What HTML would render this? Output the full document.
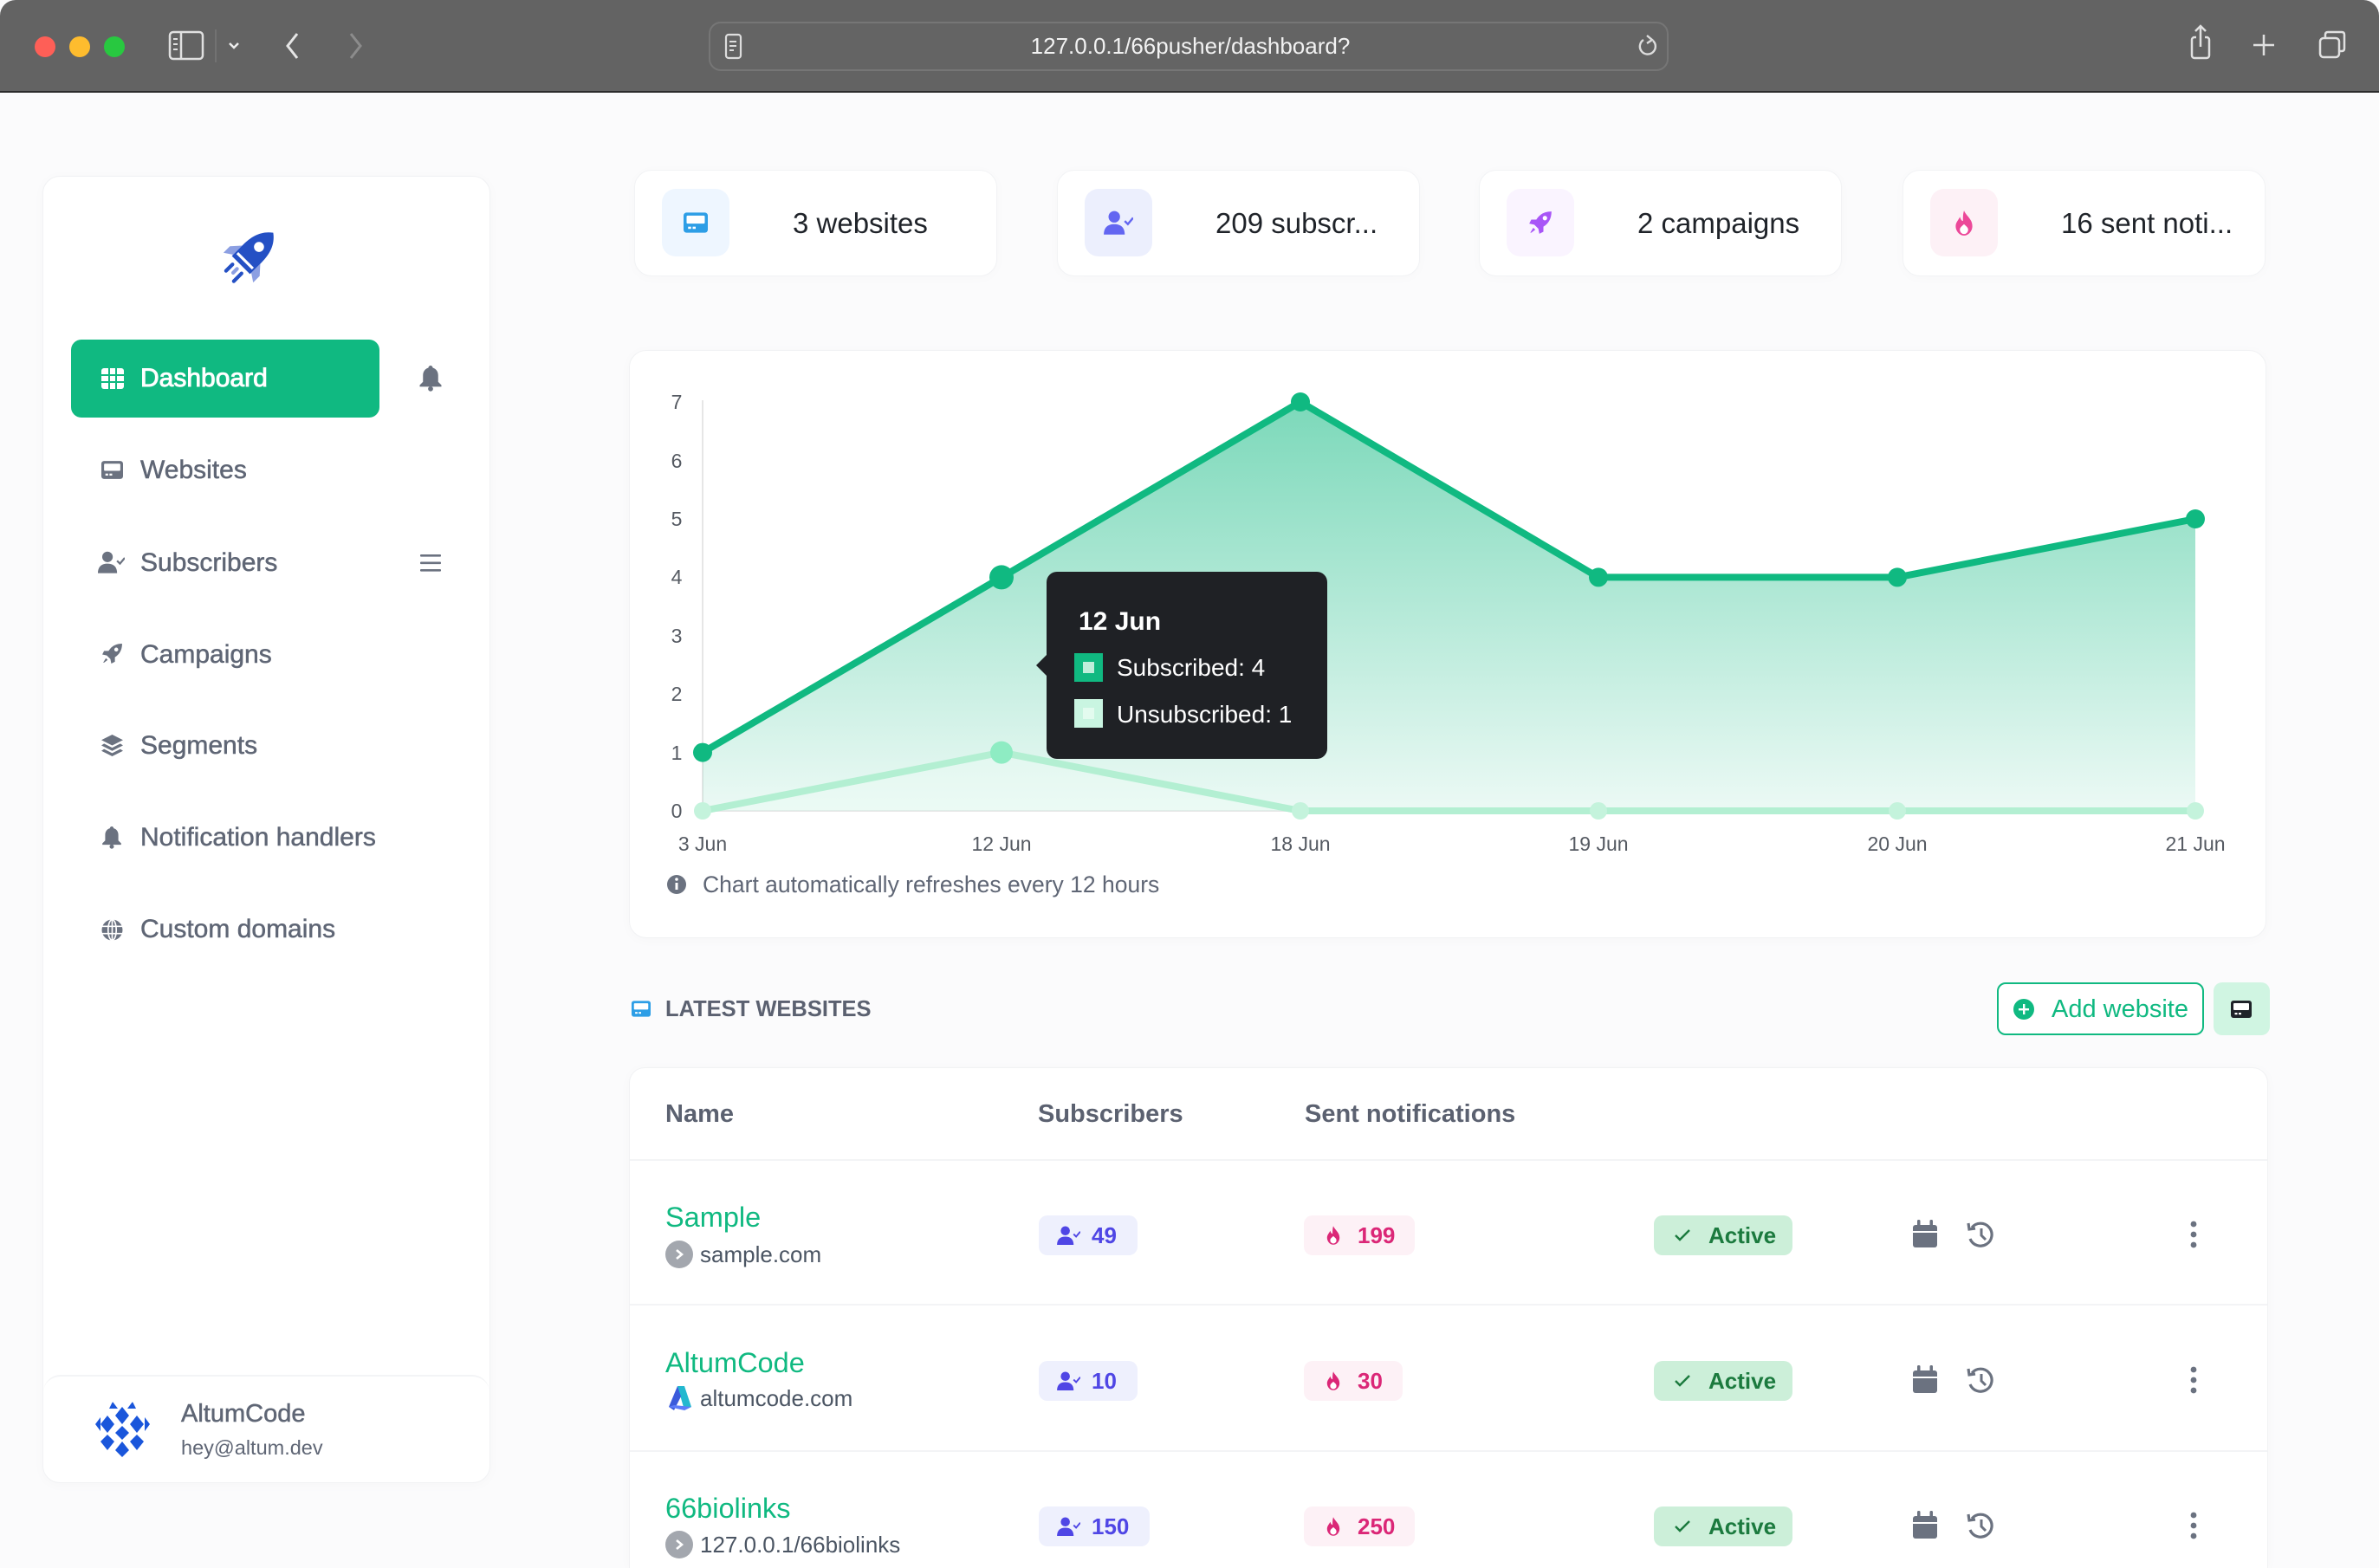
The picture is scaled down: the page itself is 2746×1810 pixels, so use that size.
<!DOCTYPE html>
<html><head><meta charset="utf-8">
<style>
*{margin:0;padding:0;box-sizing:border-box}
html,body{width:2746px;height:1810px;overflow:hidden;background:#fbfbfc;font-family:"Liberation Sans",Arial,sans-serif}
body{position:relative}
.a{position:absolute}
.card{position:absolute;background:#fff;border:1px solid #f1f2f4;box-shadow:0 2px 14px rgba(0,0,0,0.025)}
.mi{position:absolute;left:162px;height:40px;line-height:40px;font-size:30px;color:#5f6675;-webkit-text-stroke:0.5px #5f6675;white-space:nowrap}
.ic{position:absolute}
.stat{position:absolute;top:196px;width:419px;height:123px;border-radius:20px;background:#fff;border:1px solid #f2f3f5;box-shadow:0 2px 14px rgba(0,0,0,0.02)}
.sbox{position:absolute;left:31px;top:21px;width:78px;height:78px;border-radius:16px;display:flex;align-items:center;justify-content:center}
.stxt{position:absolute;left:182px;top:41px;line-height:40px;font-size:33px;color:#1f2329;white-space:nowrap}
.th{position:absolute;top:1266px;line-height:40px;font-size:29px;font-weight:bold;color:#5b6170}
.nm{position:absolute;left:768px;line-height:40px;font-size:32.5px;color:#10b981;white-space:nowrap}
.dm{position:absolute;left:768px;height:34px;line-height:34px;font-size:26px;color:#4b5563;white-space:nowrap;display:flex;align-items:center}
.dm .c{width:32px;height:32px;border-radius:50%;background:#a3a7ae;margin-right:8px;display:flex;align-items:center;justify-content:center}
.bd{position:absolute;height:46px;border-radius:10px;display:flex;align-items:center;font-size:26px;font-weight:bold;white-space:nowrap}
.sub{left:1199px;background:#eef0fd;color:#4f46e5;padding:0 24px 0 21px}
.snt{left:1505px;background:#fdf1f6;color:#db2777;padding:0 23px 0 25px}
.act{left:1909px;background:#ccefd9;color:#1b7a3e;padding:0 19px 0 23px}
.rowline{position:absolute;left:727px;width:1890px;height:2px;background:#f3f4f6}
</style></head><body>
<!-- browser chrome -->
<div class="a" style="left:0;top:0;width:2746px;height:105px;background:#636363;border-radius:18px 18px 0 0"></div>
<div class="a" style="left:0;top:105px;width:2746px;height:2px;background:#2c2c2c"></div>
<div class="a" style="left:40px;top:42px;width:24px;height:24px;border-radius:50%;background:#fe5f57"></div>
<div class="a" style="left:80px;top:42px;width:24px;height:24px;border-radius:50%;background:#febc2e"></div>
<div class="a" style="left:120px;top:42px;width:24px;height:24px;border-radius:50%;background:#28c840"></div>
<svg class="a" style="left:190px;top:30px" width="260" height="50" viewBox="0 0 260 50">
 <rect x="6" y="7" width="38" height="31" rx="4" fill="none" stroke="#e0e0e0" stroke-width="2.5"/>
 <line x1="19" y1="7" x2="19" y2="38" stroke="#e0e0e0" stroke-width="2.5"/>
 <line x1="10" y1="15" x2="15" y2="15" stroke="#e0e0e0" stroke-width="2"/><line x1="10" y1="21" x2="15" y2="21" stroke="#e0e0e0" stroke-width="2"/><line x1="10" y1="27" x2="15" y2="27" stroke="#e0e0e0" stroke-width="2"/>
 <line x1="59" y1="4" x2="59" y2="42" stroke="#777" stroke-width="1.5"/>
 <polyline points="75,20 80,25 85,20" fill="none" stroke="#eee" stroke-width="2.5"/>
 <polyline points="153,9 142,23 153,37" fill="none" stroke="#e6e6e6" stroke-width="3"/>
 <polyline points="215,9 226,23 215,37" fill="none" stroke="#8c8c8c" stroke-width="3"/>
</svg>
<div class="a" style="left:818px;top:25px;width:1108px;height:57px;border-radius:14px;border:2px solid #767676;background:#646464"></div>
<svg class="a" style="left:836px;top:38px" width="22" height="32" viewBox="0 0 22 32"><rect x="2" y="2" width="17" height="27" rx="3" fill="none" stroke="#ddd" stroke-width="2.2"/><line x1="6" y1="10" x2="14" y2="10" stroke="#ddd" stroke-width="2"/><line x1="6" y1="15" x2="14" y2="15" stroke="#ddd" stroke-width="2"/><line x1="6" y1="20" x2="11" y2="20" stroke="#ddd" stroke-width="2"/></svg>
<div class="a" style="left:1100px;top:34px;width:548px;text-align:center;line-height:38px;font-size:26px;color:#f2f2f2">127.0.0.1/66pusher/dashboard?</div>
<svg class="a" style="left:1888px;top:37px" width="28" height="32" viewBox="0 0 28 32"><path d="M20 10 A9 9 0 1 1 9 9" fill="none" stroke="#ddd" stroke-width="2.4"/><polyline points="13,4 19,9 13,13" fill="none" stroke="#ddd" stroke-width="2.4"/></svg>
<svg class="a" style="left:2520px;top:26px" width="200" height="50" viewBox="0 0 200 50">
 <rect x="10" y="17" width="20" height="24" rx="3" fill="none" stroke="#e0e0e0" stroke-width="2.5"/>
 <rect x="15" y="12" width="10" height="10" fill="#636363"/>
 <line x1="20" y1="4" x2="20" y2="28" stroke="#e0e0e0" stroke-width="2.5"/><polyline points="14,10 20,4 26,10" fill="none" stroke="#e0e0e0" stroke-width="2.5"/>
 <line x1="93" y1="14" x2="93" y2="38" stroke="#e0e0e0" stroke-width="2.5"/><line x1="81" y1="26" x2="105" y2="26" stroke="#e0e0e0" stroke-width="2.5"/>
 <rect x="158" y="18" width="22" height="22" rx="4" fill="none" stroke="#e0e0e0" stroke-width="2.5"/>
 <path d="M164 18 V14 Q164 11 167 11 H183 Q186 11 186 14 V30 Q186 33 183 33 H180" fill="none" stroke="#e0e0e0" stroke-width="2.5"/>
</svg>

<!-- sidebar -->
<div class="card" style="left:49px;top:203px;width:517px;height:1509px;border-radius:20px"></div>
<svg class="a" style="left:252px;top:256px" width="76" height="76" viewBox="0 0 72 72">
 <g transform="rotate(45 36 36)">
  <path d="M22 36 L13 46 L13 56 L22 50Z" fill="#8c9fe2"/>
  <path d="M50 36 L59 46 L59 56 L50 50Z" fill="#8c9fe2"/>
  <path d="M36 2 C47 10 50 22 50 34 L50 52 L22 52 L22 34 C22 22 25 10 36 2Z" fill="#2450c4"/>
  <circle cx="36" cy="24" r="5.5" fill="#fff"/>
  <rect x="24" y="44" width="24" height="3" fill="#fff"/>
  <line x1="29" y1="58" x2="29" y2="68" stroke="#2450c4" stroke-width="4" stroke-linecap="round"/>
  <line x1="36" y1="58" x2="36" y2="64" stroke="#8c9fe2" stroke-width="4" stroke-linecap="round"/>
  <line x1="43" y1="58" x2="43" y2="70" stroke="#2450c4" stroke-width="4" stroke-linecap="round"/>
 </g>
</svg>
<div class="a" style="left:82px;top:392px;width:356px;height:90px;border-radius:12px;background:#10b981"></div>
<svg class="a" style="left:117px;top:425px" width="26" height="24" viewBox="0 0 26 24"><rect x="0" y="0" width="26" height="24" rx="3" fill="#fff"/><g fill="#10b981"><rect x="8" y="0" width="2" height="24"/><rect x="16" y="0" width="2" height="24"/><rect x="0" y="7" width="26" height="2"/><rect x="0" y="15" width="26" height="2"/></g></svg>
<div class="mi" style="top:417px;color:#fff;-webkit-text-stroke:0.9px #fff">Dashboard</div>
<svg class="a" style="left:484px;top:422px" width="26" height="30" viewBox="0 0 20 24"><path d="M10 0 C11 0 12 1 12 2 C15.5 3 17 6 17 9 L17 15 L20 18 L20 19.5 L0 19.5 L0 18 L3 15 L3 9 C3 6 4.5 3 8 2 C8 1 9 0 10 0Z" fill="#6b7280"/><circle cx="10" cy="21.5" r="2.3" fill="#6b7280"/></svg>

<svg class="ic" style="left:117px;top:532px" width="25" height="21" viewBox="0 0 24 20"><rect width="24" height="20" rx="3" fill="#6b7280"/><rect x="3" y="3" width="18" height="8" rx="1" fill="#fff"/><rect x="4.5" y="14" width="3" height="2.2" fill="#fff"/><rect x="9" y="14" width="3" height="2.2" fill="#fff"/></svg>
<div class="mi" style="top:523px">Websites</div>

<svg class="ic" style="left:113px;top:636px" width="31" height="27" viewBox="0 0 28 24"><circle cx="10" cy="6" r="5.5" fill="#6b7280"/><path d="M0 23 C0 16 4 13 10 13 C16 13 20 16 20 23Z" fill="#6b7280"/><polyline points="20,10 23,13 28,7" fill="none" stroke="#6b7280" stroke-width="2"/></svg>
<div class="mi" style="top:630px">Subscribers</div>
<svg class="a" style="left:485px;top:639px" width="24" height="22" viewBox="0 0 24 22"><g fill="#6b7280"><rect y="1" width="24" height="2.6" rx="1"/><rect y="9.5" width="24" height="2.6" rx="1"/><rect y="18" width="24" height="2.6" rx="1"/></g></svg>

<svg class="ic" style="left:117px;top:742px" width="25" height="25" viewBox="0 0 24 24"><path d="M23 1 C16 1 11 4 8 9 L3 9 L1 13 L6 14 L10 18 L11 23 L15 21 L15 16 C20 13 23 8 23 1Z" fill="#6b7280"/><circle cx="16.5" cy="7.5" r="2.2" fill="#fff"/><path d="M5 17 L7 19 L3 22 L2 22Z" fill="#6b7280"/></svg>
<div class="mi" style="top:736px">Campaigns</div>

<svg class="ic" style="left:117px;top:848px" width="25" height="26" viewBox="0 0 24 25"><path d="M12 0 L24 6 L12 12 L0 6Z" fill="#6b7280"/><path d="M3 10 L12 14.5 L21 10 L24 12 L12 18 L0 12Z" fill="#6b7280"/><path d="M3 16 L12 20.5 L21 16 L24 18 L12 24 L0 18Z" fill="#6b7280"/></svg>
<div class="mi" style="top:841px">Segments</div>

<svg class="ic" style="left:118px;top:954px" width="22" height="26" viewBox="0 0 20 24"><path d="M10 0 C11 0 12 1 12 2 C15.5 3 17 6 17 9 L17 15 L20 18 L20 19.5 L0 19.5 L0 18 L3 15 L3 9 C3 6 4.5 3 8 2 C8 1 9 0 10 0Z" fill="#6b7280"/><circle cx="10" cy="21.5" r="2.3" fill="#6b7280"/></svg>
<div class="mi" style="top:947px">Notification handlers</div>

<svg class="ic" style="left:117px;top:1061px" width="25" height="25" viewBox="0 0 24 24"><circle cx="12" cy="12" r="11.5" fill="#6b7280"/><g stroke="#fff" stroke-width="1.6" fill="none"><ellipse cx="12" cy="12" rx="4.5" ry="11.5"/><line x1="0" y1="8" x2="24" y2="8"/><line x1="0" y1="16" x2="24" y2="16"/><line x1="12" y1="0" x2="12" y2="24"/></g></svg>
<div class="mi" style="top:1053px">Custom domains</div>

<div class="a" style="left:50px;top:1587px;width:515px;height:124px;border-top:2px solid #f3f4f6;border-radius:20px 20px 0 0"></div>
<svg class="a" style="left:108px;top:1616px" width="67" height="67" viewBox="0 0 67 67">
 <defs><clipPath id="av"><circle cx="33.5" cy="33.5" r="33"/></clipPath></defs>
 <g clip-path="url(#av)" fill="#1a56db">
  <path d="M33 8 L41 18 L33 28 L25 18Z"/><path d="M33 30 L41 38 L33 46 L25 38Z"/><path d="M33 48 L41 58 L33 66 L25 58Z"/>
  <path d="M16 18 L24 28 L16 38 L8 28Z"/><path d="M50 18 L58 28 L50 38 L42 28Z"/>
  <path d="M16 40 L24 48 L16 58 L8 48Z"/><path d="M50 40 L58 48 L50 58 L42 48Z"/>
  <path d="M2 28 L8 20 L8 36Z"/><path d="M65 28 L59 20 L59 36Z"/>
  <path d="M22 2 L28 10 L18 10Z"/><path d="M45 2 L49 10 L39 10Z"/>
  <path d="M4 50 L12 60 L2 58Z"/><path d="M63 50 L55 60 L65 58Z"/>
 </g>
</svg>
<div class="a" style="left:209px;top:1614px;line-height:36px;font-size:29px;color:#5f6675;-webkit-text-stroke:0.5px #5f6675">AltumCode</div>
<div class="a" style="left:209px;top:1655px;line-height:32px;font-size:23.5px;color:#5f6675">hey@altum.dev</div>

<!-- stat cards -->
<div class="stat" style="left:732px"><div class="sbox" style="background:#eef6ff"><svg width="28" height="24" viewBox="0 0 24 20"><rect width="24" height="20" rx="3" fill="#2d9ee6"/><rect x="3" y="3" width="18" height="8" rx="1" fill="#fff"/><rect x="4.5" y="14" width="3" height="2.2" fill="#fff"/><rect x="9" y="14" width="3" height="2.2" fill="#fff"/></svg></div><div class="stxt">3 websites</div></div>
<div class="stat" style="left:1220px"><div class="sbox" style="background:#eceffd"><svg width="34" height="29" viewBox="0 0 28 24"><circle cx="10" cy="6" r="5.5" fill="#6366f1"/><path d="M0 23 C0 16 4 13 10 13 C16 13 20 16 20 23Z" fill="#6366f1"/><polyline points="20,10 23,13 28,7" fill="none" stroke="#6366f1" stroke-width="2"/></svg></div><div class="stxt">209 subscr...</div></div>
<div class="stat" style="left:1707px"><div class="sbox" style="background:#faf4ff"><svg width="28" height="28" viewBox="0 0 24 24"><path d="M23 1 C16 1 11 4 8 9 L3 9 L1 13 L6 14 L10 18 L11 23 L15 21 L15 16 C20 13 23 8 23 1Z" fill="#a855f7"/><circle cx="16.5" cy="7.5" r="2.2" fill="#fff"/><path d="M5 17 L7 19 L3 22 L2 22Z" fill="#a855f7"/></svg></div><div class="stxt">2 campaigns</div></div>
<div class="stat" style="left:2196px"><div class="sbox" style="background:#fdf1f6"><svg width="24" height="29" viewBox="0 0 20 24"><path d="M10 0 C12 5 18 8 18 15 C18 20 14 24 10 24 C6 24 2 20 2 15 C2 11 5 9 6 6 C7 9 8 10 9 10 C9 6 9 3 10 0Z" fill="#ec4899"/><path d="M10 13 C12 15 14 16 14 18.5 A4 4 0 0 1 6 18.5 C6 16 8 15 10 13Z" fill="#fff"/></svg></div><div class="stxt">16 sent noti...</div></div>

<!-- chart card -->
<div class="card" style="left:726px;top:404px;width:1890px;height:679px;border-radius:20px"></div>
<svg class="a" style="left:0;top:0" width="2746" height="1810" viewBox="0 0 2746 1810">
 <defs>
  <linearGradient id="gf" x1="0" y1="464" x2="0" y2="936" gradientUnits="userSpaceOnUse">
   <stop offset="0" stop-color="#10b981" stop-opacity="0.55"/>
   <stop offset="1" stop-color="#10b981" stop-opacity="0.08"/>
  </linearGradient>
 </defs>
 <line x1="811" y1="462" x2="811" y2="937" stroke="#e6e6e6" stroke-width="2"/>
 <line x1="811" y1="936" x2="2534" y2="936" stroke="#e6e6e6" stroke-width="2"/>
 <polygon points="811,868.6 1156,666.4 1501,464 1845,666.4 2190,666.4 2534,599 2534,936 811,936" fill="url(#gf)"/>
 <polygon points="811,936 1156,868.6 1501,936 2534,936" fill="#ecfbf4" fill-opacity="0.45"/>
 <polyline points="811,936 1156,868.6 1501,936 1845,936 2190,936 2534,936" fill="none" stroke="#b3efd2" stroke-width="8" stroke-linejoin="round"/>
 <g fill="#c4f3dc"><circle cx="811" cy="936" r="10"/><circle cx="1501" cy="936" r="10"/><circle cx="1845" cy="936" r="10"/><circle cx="2190" cy="936" r="10"/><circle cx="2534" cy="936" r="10"/></g>
 <circle cx="1156" cy="868.6" r="13" fill="#8eecc3"/>
 <polyline points="811,868.6 1156,666.4 1501,464 1845,666.4 2190,666.4 2534,599" fill="none" stroke="#10b981" stroke-width="8" stroke-linejoin="round"/>
 <g fill="#10b981"><circle cx="811" cy="868.6" r="11"/><circle cx="1156" cy="666.4" r="14"/><circle cx="1501" cy="464" r="11"/><circle cx="1845" cy="666.4" r="11"/><circle cx="2190" cy="666.4" r="11"/><circle cx="2534" cy="599" r="11"/></g>
 <g font-family="Liberation Sans, Arial, sans-serif" font-size="23" fill="#555a62" text-anchor="middle">
  <text x="781" y="944">0</text><text x="781" y="877">1</text><text x="781" y="809">2</text><text x="781" y="742">3</text>
  <text x="781" y="674">4</text><text x="781" y="607">5</text><text x="781" y="540">6</text><text x="781" y="472">7</text>
  <text x="811" y="982">3 Jun</text><text x="1156" y="982">12 Jun</text><text x="1501" y="982">18 Jun</text>
  <text x="1845" y="982">19 Jun</text><text x="2190" y="982">20 Jun</text><text x="2534" y="982">21 Jun</text>
 </g>
 <circle cx="781" cy="1021" r="11" fill="#6b7280"/>
 <rect x="779.5" y="1019" width="3" height="8" fill="#fff"/><circle cx="781" cy="1015" r="1.8" fill="#fff"/>
 <text x="811" y="1030" font-family="Liberation Sans, Arial, sans-serif" font-size="26.5" fill="#5f6675">Chart automatically refreshes every 12 hours</text>
 <!-- tooltip -->
 <polygon points="1196,768 1210,754 1210,782" fill="#1f2125"/>
 <rect x="1208" y="660" width="324" height="216" rx="12" fill="#1f2125"/>
 <text x="1245" y="727" font-family="Liberation Sans, Arial, sans-serif" font-size="30" font-weight="bold" fill="#fff">12 Jun</text>
 <rect x="1240" y="754" width="33" height="33" fill="#10b981"/><rect x="1250" y="764" width="13" height="13" fill="#bfeedb"/>
 <text x="1289" y="780" font-family="Liberation Sans, Arial, sans-serif" font-size="28" fill="#fff">Subscribed: 4</text>
 <rect x="1240" y="807" width="33" height="33" fill="#c9f5e1"/><rect x="1250" y="817" width="13" height="13" fill="#e3fbef"/>
 <text x="1289" y="834" font-family="Liberation Sans, Arial, sans-serif" font-size="28" fill="#fff">Unsubscribed: 1</text>
</svg>

<!-- latest websites header -->
<svg class="a" style="left:729px;top:1155px" width="22" height="19" viewBox="0 0 24 20"><rect width="24" height="20" rx="3" fill="#2d9ee6"/><rect x="3" y="3" width="18" height="8" rx="1" fill="#fff"/><rect x="4.5" y="14" width="3" height="2.2" fill="#fff"/><rect x="9" y="14" width="3" height="2.2" fill="#fff"/></svg>
<div class="a" style="left:768px;top:1147px;line-height:36px;font-size:25.5px;font-weight:bold;color:#5b6170">LATEST WEBSITES</div>
<div class="a" style="left:2305px;top:1134px;width:239px;height:61px;border:2px solid #10b981;border-radius:10px;background:#fff"></div>
<svg class="a" style="left:2323px;top:1152px" width="26" height="26" viewBox="0 0 26 26"><circle cx="13" cy="13" r="12" fill="#10b981"/><rect x="12" y="7" width="2.4" height="12" fill="#fff"/><rect x="7" y="12" width="12" height="2.4" fill="#fff"/></svg>
<div class="a" style="left:2368px;top:1145px;line-height:40px;font-size:29px;color:#10b981">Add website</div>
<div class="a" style="left:2555px;top:1134px;width:65px;height:61px;border-radius:10px;background:#d0f5e2"></div>
<svg class="a" style="left:2575px;top:1155px" width="24" height="20" viewBox="0 0 24 20"><rect width="24" height="20" rx="3" fill="#1f2329"/><rect x="3" y="3" width="18" height="8" rx="1" fill="#fff"/><rect x="4.5" y="14" width="3" height="2.2" fill="#fff"/><rect x="9" y="14" width="3" height="2.2" fill="#fff"/></svg>

<!-- table -->
<div class="card" style="left:726px;top:1232px;width:1892px;height:578px;border-radius:18px 18px 0 0;border-bottom:none"></div>
<div class="th" style="left:768px">Name</div>
<div class="th" style="left:1198px">Subscribers</div>
<div class="th" style="left:1506px">Sent notifications</div>
<div class="rowline" style="top:1338px"></div>
<div class="rowline" style="top:1505px"></div>
<div class="rowline" style="top:1674px"></div>

<!-- row 1 -->
<div class="nm" style="top:1385px">Sample</div>
<div class="dm" style="top:1431px"><span class="c"><svg width="12" height="14" viewBox="0 0 12 14"><polyline points="3,2 9,7 3,12" fill="none" stroke="#fff" stroke-width="2.6"/></svg></span>sample.com</div>
<!-- row 2 -->
<div class="nm" style="top:1553px">AltumCode</div>
<div class="dm" style="top:1597px"><span style="width:32px;height:32px;margin-right:8px;display:flex"><svg width="32" height="32" viewBox="0 0 32 32"><path d="M14 2 L22 2 L30 26 L22 30 Z" fill="#22b8cf"/><path d="M14 2 L4 26 L10 30 L18 14Z" fill="#3b5bdb"/><path d="M4 26 L22 30 L30 26 L10 24Z" fill="#5c7cfa"/></svg></span>altumcode.com</div>
<!-- row 3 -->
<div class="nm" style="top:1721px">66biolinks</div>
<div class="dm" style="top:1766px"><span class="c"><svg width="12" height="14" viewBox="0 0 12 14"><polyline points="3,2 9,7 3,12" fill="none" stroke="#fff" stroke-width="2.6"/></svg></span>127.0.0.1/66biolinks</div>

<!-- badges rows -->
<div class="bd sub" style="top:1403px"><svg width="27" height="23" viewBox="0 0 28 24" style="margin-right:13px"><circle cx="10" cy="6" r="5.5" fill="#4f46e5"/><path d="M0 23 C0 16 4 13 10 13 C16 13 20 16 20 23Z" fill="#4f46e5"/><polyline points="20,10 23,13 28,7" fill="none" stroke="#4f46e5" stroke-width="2"/></svg>49</div>
<div class="bd sub" style="top:1571px"><svg width="27" height="23" viewBox="0 0 28 24" style="margin-right:13px"><circle cx="10" cy="6" r="5.5" fill="#4f46e5"/><path d="M0 23 C0 16 4 13 10 13 C16 13 20 16 20 23Z" fill="#4f46e5"/><polyline points="20,10 23,13 28,7" fill="none" stroke="#4f46e5" stroke-width="2"/></svg>10</div>
<div class="bd sub" style="top:1739px"><svg width="27" height="23" viewBox="0 0 28 24" style="margin-right:13px"><circle cx="10" cy="6" r="5.5" fill="#4f46e5"/><path d="M0 23 C0 16 4 13 10 13 C16 13 20 16 20 23Z" fill="#4f46e5"/><polyline points="20,10 23,13 28,7" fill="none" stroke="#4f46e5" stroke-width="2"/></svg>150</div>

<div class="bd snt" style="top:1403px"><svg width="18" height="22" viewBox="0 0 20 24" style="margin-right:19px"><path d="M10 0 C12 5 18 8 18 15 C18 20 14 24 10 24 C6 24 2 20 2 15 C2 11 5 9 6 6 C7 9 8 10 9 10 C9 6 9 3 10 0Z" fill="#db2777"/><path d="M10 13 C12 15 14 16 14 18.5 A4 4 0 0 1 6 18.5 C6 16 8 15 10 13Z" fill="#fff"/></svg>199</div>
<div class="bd snt" style="top:1571px"><svg width="18" height="22" viewBox="0 0 20 24" style="margin-right:19px"><path d="M10 0 C12 5 18 8 18 15 C18 20 14 24 10 24 C6 24 2 20 2 15 C2 11 5 9 6 6 C7 9 8 10 9 10 C9 6 9 3 10 0Z" fill="#db2777"/><path d="M10 13 C12 15 14 16 14 18.5 A4 4 0 0 1 6 18.5 C6 16 8 15 10 13Z" fill="#fff"/></svg>30</div>
<div class="bd snt" style="top:1739px"><svg width="18" height="22" viewBox="0 0 20 24" style="margin-right:19px"><path d="M10 0 C12 5 18 8 18 15 C18 20 14 24 10 24 C6 24 2 20 2 15 C2 11 5 9 6 6 C7 9 8 10 9 10 C9 6 9 3 10 0Z" fill="#db2777"/><path d="M10 13 C12 15 14 16 14 18.5 A4 4 0 0 1 6 18.5 C6 16 8 15 10 13Z" fill="#fff"/></svg>250</div>

<div class="bd act" style="top:1403px"><svg width="20" height="16" viewBox="0 0 20 16" style="margin-right:20px"><polyline points="2,8 7,13 18,2" fill="none" stroke="#1b7a3e" stroke-width="2.4"/></svg>Active</div>
<div class="bd act" style="top:1571px"><svg width="20" height="16" viewBox="0 0 20 16" style="margin-right:20px"><polyline points="2,8 7,13 18,2" fill="none" stroke="#1b7a3e" stroke-width="2.4"/></svg>Active</div>
<div class="bd act" style="top:1739px"><svg width="20" height="16" viewBox="0 0 20 16" style="margin-right:20px"><polyline points="2,8 7,13 18,2" fill="none" stroke="#1b7a3e" stroke-width="2.4"/></svg>Active</div>

<!-- action icons -->
<svg class="a" style="left:0;top:0" width="2746" height="1810" viewBox="0 0 2746 1810">
 <defs>
  <g id="cal"><rect x="0" y="6" width="28" height="26" rx="3" fill="#6b7280"/><rect x="5" y="0" width="3.5" height="9" rx="1.5" fill="#6b7280"/><rect x="19.5" y="0" width="3.5" height="9" rx="1.5" fill="#6b7280"/><rect x="0" y="13" width="28" height="2" fill="#fff"/></g>
  <g id="his"><path d="M6 9 A13 13 0 1 1 4 22" fill="none" stroke="#6b7280" stroke-width="3.2"/><polyline points="2,4 3,11 10,10" fill="none" stroke="#6b7280" stroke-width="3.2"/><polyline points="17,10 17,18 22,23" fill="none" stroke="#6b7280" stroke-width="3"/></g>
  <g id="dts"><circle cx="0" cy="0" r="3.4" fill="#6b7280"/><circle cx="0" cy="12" r="3.4" fill="#6b7280"/><circle cx="0" cy="24" r="3.4" fill="#6b7280"/></g>
 </defs>
 <use href="#cal" x="2208" y="1408"/><use href="#his" x="2270" y="1408"/><use href="#dts" x="2532" y="1413"/>
 <use href="#cal" x="2208" y="1576"/><use href="#his" x="2270" y="1576"/><use href="#dts" x="2532" y="1581"/>
 <use href="#cal" x="2208" y="1744"/><use href="#his" x="2270" y="1744"/><use href="#dts" x="2532" y="1749"/>
</svg>
</body></html>
